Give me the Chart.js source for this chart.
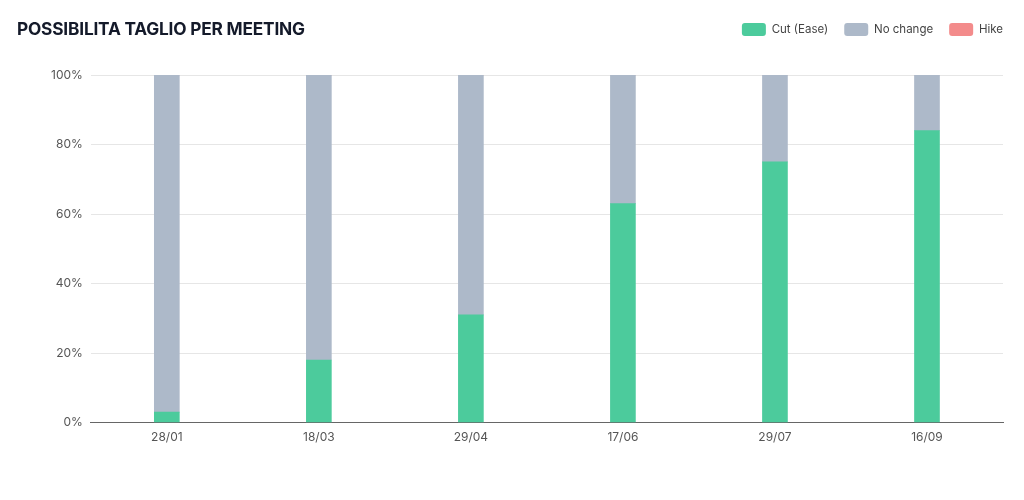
<!DOCTYPE html>
<html>
<head>
<meta charset="utf-8">
<script src="https://cdn.jsdelivr.net/npm/chart.js@4"></script>
<style>
  html, body { margin: 0; padding: 0; background: #fff; }
  #wrap { position: relative; width: 1024px; height: 500px; }
  #title {
    position: absolute; left: 17px; top: 18px; margin: 0;
    font: 700 17.3px Inter, "Noto Sans", sans-serif; color: #141a2a;
    letter-spacing: -0.2px;
  }
</style>
</head>
<body>
<div id="wrap">
  <h1 id="title">POSSIBILITA TAGLIO PER MEETING</h1>
  <canvas id="myChart" width="1024" height="500"></canvas>
</div>
<script>
const labels = ['28/01', '18/03', '29/04', '17/06', '29/07', '16/09'];

const cutValues = [3, 18, 31, 63, 75, 84];
const noChangeValues = [97, 82, 69, 37, 25, 16];
const hikeValues = [0, 0, 0, 0, 0, 0];

const data = {
  labels: labels,
  datasets: [{
    label: 'Cut (Ease)',
    backgroundColor: '#4ccb9c',
    data: cutValues,
  }, {
    label: 'No change',
    backgroundColor: '#adb9c9',
    data: noChangeValues,
  }, {
    label: 'Hike',
    backgroundColor: '#f38b8b',
    data: hikeValues,
  }]
};

// leave room between the legend and the plot, and push legend to plot's right edge
const legendTweaks = {
  id: 'legendTweaks',
  beforeInit(chart) {
    const fit = chart.legend.fit;
    chart.legend.fit = function () {
      fit.bind(chart.legend)();
      this.height += 29;
    };
  },
  afterLayout(chart) {
    chart.legend.left += 16;
    chart.legend.right += 16;
  }
};

Chart.defaults.font.family = 'Inter, "Noto Sans", sans-serif';
Chart.defaults.font.size = 12;
Chart.defaults.color = '#555';

const config = {
  type: 'bar',
  data,
  plugins: [legendTweaks],
  options: {
    responsive: false,
    animation: false,
    layout: { padding: { top: 7, right: 21, bottom: 55, left: 43 } },
    datasets: { bar: { barThickness: 25 } },
    scales: {
      x: {
        stacked: true,
        grid: { display: false },
        border: { color: '#666', width: 1 },
        ticks: { color: '#555', padding: 0 }
      },
      y: {
        stacked: true,
        min: 0,
        max: 100,
        ticks: {
          stepSize: 20,
          color: '#555',
          padding: 8,
          callback: v => v + '%'
        },
        grid: { color: '#e6e6e6', drawTicks: false },
        border: { display: false }
      }
    },
    plugins: {
      legend: {
        position: 'top',
        align: 'end',
        labels: {
          boxWidth: 24,
          boxHeight: 13,
          useBorderRadius: true,
          borderRadius: 3,
          padding: 16,
          color: '#444',
          font: { size: 11.5 }
        }
      },
      tooltip: { enabled: false }
    }
  }
};

var myChart = new Chart(document.getElementById('myChart'), config);
</script>
</body>
</html>
